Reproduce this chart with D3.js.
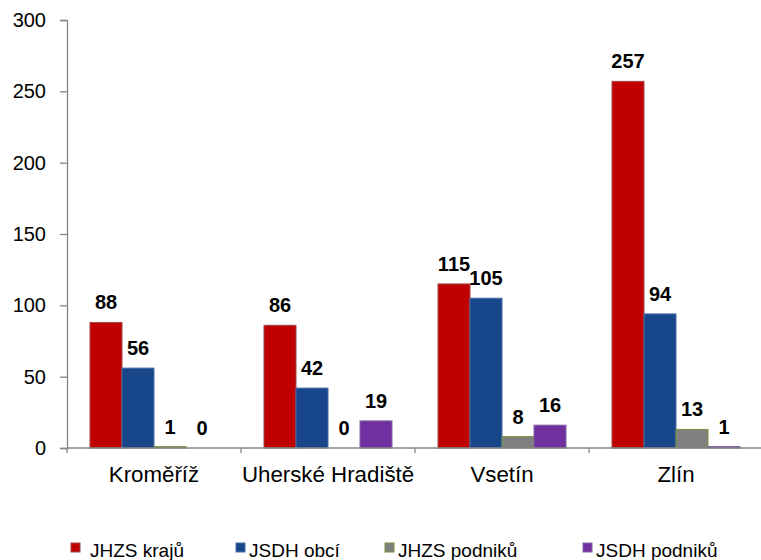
<!DOCTYPE html>
<html><head><meta charset="utf-8">
<script src="https://cdn.jsdelivr.net/npm/d3@7"></script>
<style>body{margin:0;background:#fff}svg{display:block}text{font-family:Arial,"Liberation Sans",sans-serif}</style>
</head><body>
<script>
const categories = ["Kroměříž", "Uherské Hradiště", "Vsetín", "Zlín"];
const seriesNames = ["JHZS krajů", "JSDH obcí", "JHZS podniků", "JSDH podniků"];
const jhzsKraju = [88, 86, 115, 257];
const jsdhObci = [56, 42, 105, 94];
const jhzsPodniku = [1, 0, 8, 13];
const jsdhPodniku = [0, 19, 16, 1];
const yTicks = [0, 50, 100, 150, 200, 250, 300];

const seriesValues = [jhzsKraju, jsdhObci, jhzsPodniku, jsdhPodniku];
const fills = ["#C00000", "#17468A", "#808080", "#7030A0"];
const strokes = ["#A04848", "#4A6FA5", "#77933C", "#8064A2"];

const W = 761, H = 560;
const svg = d3.select("body").append("svg").attr("width", W).attr("height", H);

const x0 = d3.scaleBand().domain(categories).range([67, 763]).paddingInner(0).paddingOuter(0);
const x1 = d3.scaleBand().domain(seriesNames).range([23, x0.bandwidth() - 23]).padding(0);
const y = d3.scaleLinear().domain([0, 300]).range([448, 20]);

// Y axis
const yAxis = d3.axisLeft(y).tickValues(yTicks).tickSize(7).tickPadding(14).tickFormat(d3.format("d"));
const gy = svg.append("g").attr("transform", "translate(67,0)").call(yAxis);
gy.select(".domain").attr("stroke", "#868686").attr("stroke-width", 1.3);
gy.selectAll(".tick line").attr("stroke", "#868686").attr("stroke-width", 1.3);
gy.selectAll(".tick text").attr("font-size", 20).attr("fill", "#000").attr("font-family", "Arial, 'Liberation Sans', sans-serif");

// Bars
const groups = svg.append("g").selectAll("g").data(categories).join("g")
  .attr("transform", d => `translate(${x0(d)},0)`);

groups.selectAll("rect").data((c, ci) => seriesNames.map((s, si) => ({s, si, v: seriesValues[si][ci]})))
  .join("rect")
  .attr("x", d => x1(d.s))
  .attr("width", x1.bandwidth())
  .attr("y", d => y(d.v))
  .attr("height", d => y(0) - y(d.v))
  .attr("fill", d => fills[d.si])
  .attr("stroke", d => d.v > 0 ? strokes[d.si] : "none")
  .attr("stroke-width", 1);

groups.selectAll("text").data((c, ci) => seriesNames.map((s, si) => ({s, si, v: seriesValues[si][ci]})))
  .join("text")
  .attr("x", d => x1(d.s) + x1.bandwidth() / 2)
  .attr("y", d => y(d.v) - 13)
  .attr("text-anchor", "middle")
  .attr("font-size", 20)
  .attr("font-weight", "bold")
  .attr("fill", "#000")
  .text(d => d.v);

// X axis
const xAxisG = svg.append("g");
xAxisG.append("line").attr("x1", 67).attr("x2", 761).attr("y1", y(0)).attr("y2", y(0))
  .attr("stroke", "#868686").attr("stroke-width", 1.3);
const bounds = categories.map(c => x0(c)).concat([x0(categories[categories.length - 1]) + x0.bandwidth()]);
xAxisG.selectAll("line.tk").data(bounds).join("line").attr("class", "tk")
  .attr("x1", d => d).attr("x2", d => d).attr("y1", y(0)).attr("y2", y(0) + 5)
  .attr("stroke", "#868686").attr("stroke-width", 1.3);
xAxisG.selectAll("text").data(categories).join("text")
  .attr("x", d => x0(d) + x0.bandwidth() / 2)
  .attr("y", 482)
  .attr("text-anchor", "middle")
  .attr("font-size", 22.3)
  .attr("fill", "#000")
  .text(d => d);

// Legend
const legX = [71, 236, 385, 583];
const leg = svg.append("g").selectAll("g").data(seriesNames).join("g")
  .attr("transform", (d, i) => `translate(${legX[i]},543)`);
leg.append("rect").attr("width", 9).attr("height", 9)
  .attr("fill", (d, i) => fills[i]).attr("stroke", (d, i) => strokes[i]).attr("stroke-width", 1);
leg.append("text").attr("x", (d, i) => i === 0 ? 19 : 13).attr("y", 13.5)
  .attr("font-size", 19).attr("fill", "#000").text(d => d);
</script>
</body></html>
